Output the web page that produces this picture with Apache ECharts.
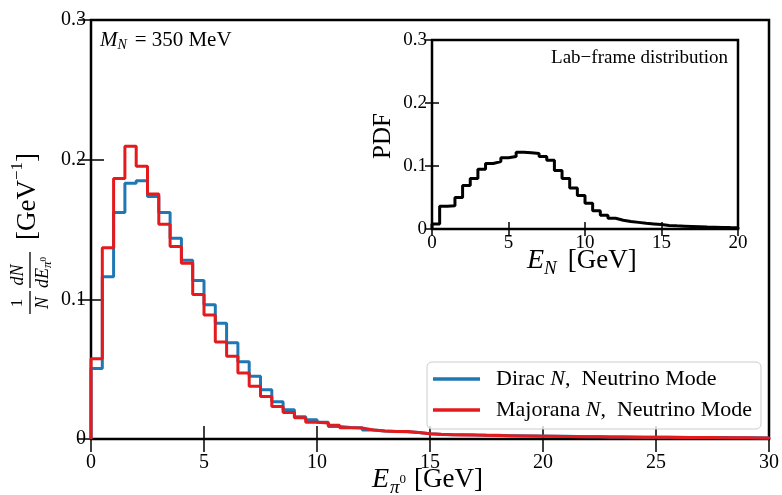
<!DOCTYPE html>
<html>
<head>
<meta charset="utf-8">
<script src="https://cdn.jsdelivr.net/npm/echarts@6/dist/echarts.min.js"></script>
<style>html,body{margin:0;padding:0;background:#fff;}#c{width:782px;height:495px;}</style>
</head>
<body>
<div id="c"></div>
<script>
// ---------- DATA ----------
const binWidth = 0.5;               // GeV
const mainRange = [0, 30];
const insetRange = [0, 20];
const mainYTicks = [0, 0.1, 0.2, 0.3];
const seriesNames = ['Dirac N, Neutrino Mode', 'Majorana N, Neutrino Mode'];

// 1/N dN/dE_pi0 per 0.5 GeV bin, from 0 to 30 GeV
const diracValues = [
  0.0505, 0.1161, 0.1622, 0.1832, 0.1849, 0.1737, 0.1622, 0.1438, 0.1280, 0.1134,
  0.0962, 0.0828, 0.0690, 0.0553, 0.0450, 0.0352, 0.0266, 0.0209, 0.0160, 0.0137,
  0.0120, 0.0089, 0.0083, 0.0081, 0.0065, 0.0058, 0.0053, 0.0052, 0.0046, 0.0038,
  0.0033, 0.0031, 0.0030, 0.0028, 0.0027, 0.0026, 0.0024, 0.0023, 0.0022, 0.0021,
  0.0020, 0.0019, 0.0018, 0.0017, 0.0016, 0.0015, 0.0015, 0.0014, 0.0013, 0.0013,
  0.0012, 0.0012, 0.0011, 0.0011, 0.0010, 0.0010, 0.0009, 0.0009, 0.0009, 0.0008
];
const majoranaValues = [
  0.0575, 0.1369, 0.1866, 0.2096, 0.1953, 0.1755, 0.1538, 0.1378, 0.1259, 0.1034,
  0.0888, 0.0695, 0.0592, 0.0472, 0.0377, 0.0304, 0.0232, 0.0190, 0.0153, 0.0120,
  0.0115, 0.0098, 0.0081, 0.0079, 0.0065, 0.0058, 0.0053, 0.0053, 0.0046, 0.0038,
  0.0034, 0.0031, 0.0029, 0.0028, 0.0026, 0.0025, 0.0024, 0.0022, 0.0021, 0.0020,
  0.0019, 0.0018, 0.0017, 0.0016, 0.0016, 0.0015, 0.0014, 0.0013, 0.0013, 0.0012,
  0.0012, 0.0011, 0.0011, 0.0010, 0.0010, 0.0009, 0.0009, 0.0009, 0.0008, 0.0008
];
// Inset: lab-frame PDF of E_N per 0.5 GeV bin, from 0 to 20 GeV
const labFrameValues = [
  0.008, 0.036, 0.037, 0.050, 0.069, 0.080, 0.095, 0.104, 0.107, 0.113,
  0.115, 0.122, 0.121, 0.120, 0.115, 0.109, 0.093, 0.080, 0.065, 0.053,
  0.041, 0.029, 0.022, 0.017, 0.014, 0.012, 0.0105, 0.009, 0.008, 0.007,
  0.0057, 0.005, 0.0045, 0.004, 0.0035, 0.003, 0.0028, 0.0025, 0.0022, 0.002
];

// ---------- helpers ----------
const FONT = '"Liberation Serif", "Times New Roman", serif';
function stepData(values, x0, w) {
  const d = [[x0, 0]];
  values.forEach((v, i) => d.push([x0 + i * w, v]));
  d.push([x0 + values.length * w, values[values.length - 1]]);
  d.push([x0 + values.length * w, 0]);
  return d;
}
const mctx = document.createElement('canvas').getContext('2d');
function tw(t, s, it) { mctx.font = (it ? 'italic ' : '') + s + 'px ' + FONT; return mctx.measureText(t).width; }
function txt(t, x, y, s, it, align) {
  return { type: 'text', x: x, y: y, z: 100,
    style: { text: t, fontSize: s, fontFamily: FONT, fontStyle: it ? 'italic' : 'normal', fill: '#000',
      align: align || 'left', verticalAlign: 'middle', textAlign: align || 'left', textVerticalAlign: 'middle' } };
}
function run(pieces, x0, y0) {
  let x = x0; const out = [];
  pieces.forEach(p => { out.push(txt(p.t, x, y0 + (p.dy || 0), p.s, p.i)); x += tw(p.t, p.s, p.i) + (p.gap || 0); });
  return out;
}
function hline(x1, x2, y) { return { type: 'line', z: 100, shape: { x1: x1, y1: y, x2: x2, y2: y }, style: { stroke: '#000', lineWidth: 1.3 } }; }

const tickFmt = v => (v === 0 ? '0' : (+v).toFixed(1));
function xAx(grid, pos, range, showLabel, tickLen, fs) {
  return { type: 'value', gridIndex: grid, position: pos, min: range[0], max: range[1], interval: 5,
    axisLine: { show: false }, splitLine: { show: false },
    axisTick: { show: true, inside: true, length: tickLen, lineStyle: { color: '#000', width: 1.5 } },
    axisLabel: { show: showLabel, color: '#000', fontSize: fs, fontFamily: FONT, margin: grid === 0 ? 14 : 5 } };
}
function yAx(grid, pos, showLabel, tickLen, fs) {
  return { type: 'value', gridIndex: grid, position: pos, min: mainYTicks[0], max: mainYTicks[mainYTicks.length - 1], interval: 0.1,
    axisLine: { show: false }, splitLine: { show: false },
    axisTick: { show: true, inside: true, length: tickLen, lineStyle: { color: '#000', width: 1.5 } },
    axisLabel: { show: showLabel, color: '#000', fontSize: fs, fontFamily: FONT, margin: 5, formatter: tickFmt } };
}

// ---------- graphic labels ----------
const graphics = [];
// main x label: E_{pi^0} [GeV]
graphics.push(...run([
  { t: 'E', s: 28, i: true, gap: 1 },
  { t: 'π', s: 19, i: true, dy: 8, gap: 0 },
  { t: '0', s: 13, dy: 0, gap: 8 },
  { t: '[GeV]', s: 27 }
], 372, 480));
// main y label (rotated)
const yl = [];
yl.push(txt('1', -72, -12, 17, false, 'center'));
yl.push(hline(-83, -60, 0));
yl.push(txt('N', -72, 13, 18, true, 'center'));
yl.push(txt('dN', -44, -12, 18, true, 'center'));
yl.push(hline(-57, -21, 0));
yl.push(...run([
  { t: 'dE', s: 18, i: true, gap: 0 },
  { t: 'π', s: 13, i: true, dy: 5 },
  { t: '0', s: 9, dy: 1 }
], -57, 13));
yl.push(...run([
  { t: '[GeV', s: 27 },
  { t: '−1', s: 17, dy: -10 },
  { t: ']', s: 27 }
], -9, -2));
graphics.push({ type: 'group', x: 30, y: 231, rotation: Math.PI / 2, children: yl });
// M_N = 350 MeV
graphics.push(...run([
  { t: 'M', s: 21, i: true, gap: 0 },
  { t: 'N', s: 14, i: true, dy: 5, gap: 8 },
  { t: '=', s: 21, gap: 5 },
  { t: '350 MeV', s: 21 }
], 100, 40));
// inset texts
graphics.push(txt('Lab−frame distribution', 728, 58, 19, false, 'right'));
graphics.push(...run([
  { t: 'E', s: 28, i: true, gap: 0 },
  { t: 'N', s: 19, i: true, dy: 8, gap: 11 },
  { t: '[GeV]', s: 27 }
], 527, 261));
graphics.push({ type: 'group', x: 383, y: 136, rotation: Math.PI / 2, children: [txt('PDF', 0, 0, 25, false, 'center')] });

// ---------- chart ----------
const chart = echarts.init(document.getElementById('c'), null, { renderer: 'canvas' });
const legendFmt = name => {
  const parts = name.split(' N,');
  return '{g|}{r|' + parts[0] + ' }{i|N}{r|,  ' + parts[1].trim() + '}';
};
chart.setOption({
  animation: false,
  backgroundColor: '#fff',
  grid: [
    { left: 91, right: 11, top: 20, bottom: 56, show: true, borderColor: '#000', borderWidth: 2.5, backgroundColor: 'transparent' },
    { left: 432, right: 44, top: 40, bottom: 266, show: true, borderColor: '#000', borderWidth: 2.5, backgroundColor: 'transparent' }
  ],
  xAxis: [
    xAx(0, 'bottom', mainRange, true, 13, 20),
    xAx(0, 'top', mainRange, false, 13, 20),
    xAx(1, 'bottom', insetRange, true, 7, 19),
    xAx(1, 'top', insetRange, false, 7, 19)
  ],
  yAxis: [
    yAx(0, 'left', true, 13, 20),
    yAx(0, 'right', false, 13, 20),
    yAx(1, 'left', true, 7, 19),
    yAx(1, 'right', false, 7, 19)
  ],
  legend: {
    data: seriesNames.map(n => ({ name: n, icon: 'rect' })),
    orient: 'vertical', left: 427, top: 362,
    itemWidth: 47, itemHeight: 3.5, itemGap: 9,
    padding: [6, 9, 8, 6],
    backgroundColor: 'rgba(255,255,255,0.8)', borderColor: '#cccccc', borderWidth: 1, borderRadius: 5,
    formatter: legendFmt,
    textStyle: {
      color: '#000', fontSize: 22, fontFamily: FONT,
      rich: {
        g: { width: 11 },
        r: { fontSize: 22, fontFamily: FONT, color: '#000' },
        i: { fontSize: 22, fontFamily: FONT, fontStyle: 'italic', color: '#000' }
      }
    }
  },
  series: [
    { name: seriesNames[0], type: 'line', step: 'end', xAxisIndex: 0, yAxisIndex: 0, showSymbol: false, symbol: 'none',
      data: stepData(diracValues, mainRange[0], binWidth), color: '#1f77b4', lineStyle: { color: '#1f77b4', width: 3 }, z: 3 },
    { name: seriesNames[1], type: 'line', step: 'end', xAxisIndex: 0, yAxisIndex: 0, showSymbol: false, symbol: 'none',
      data: stepData(majoranaValues, mainRange[0], binWidth), color: '#e41a1c', lineStyle: { color: '#e41a1c', width: 3 }, z: 4 },
    { name: 'Lab-frame', type: 'line', step: 'end', xAxisIndex: 2, yAxisIndex: 2, showSymbol: false, symbol: 'none',
      data: stepData(labFrameValues, insetRange[0], binWidth), color: '#000', lineStyle: { color: '#000', width: 3 }, z: 3 }
  ],
  graphic: graphics
});
</script>
</body>
</html>
